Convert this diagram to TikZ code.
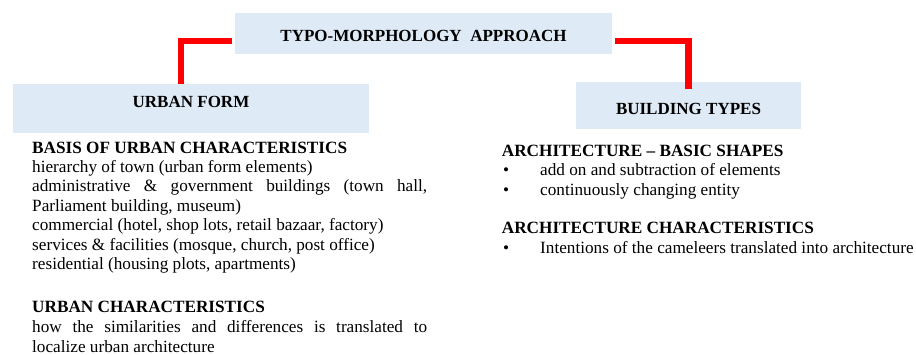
\documentclass[tikz,border=0pt]{standalone}
\usepackage{fontspec}
\setmainfont{Liberation Serif}
\definecolor{boxblue}{RGB}{222,234,246}
\definecolor{linkred}{RGB}{255,0,0}
\begin{document}
\begin{tikzpicture}[x=1pt,y=-1pt,
  hbox/.style={fill=boxblue,draw=none,inner sep=0pt,rectangle,font=\fontsize{17}{19.5}\selectfont\bfseries},
  link/.style={draw=linkred,line width=6.5pt,line join=miter},
  txt/.style={anchor=base west,inner sep=0pt,font=\fontsize{17.2}{19.5}\selectfont},
  head/.style={txt,font=\fontsize{17.2}{19.5}\selectfont\bfseries}]
\useasboundingbox (0,0) rectangle (916,355);
% boxes
\node[hbox,minimum width=377pt,minimum height=41pt,text height=16.4pt,text depth=0pt] (top) at (423.5,33.5) {TYPO-MORPHOLOGY\ \ APPROACH};
\node[hbox,minimum width=356pt,minimum height=49pt,text height=5pt,text depth=6pt] (uf) at (191,108.5) {URBAN FORM};
\node[hbox,minimum width=225pt,minimum height=47pt,text height=19pt,text depth=0pt] (bt) at (688.5,105.5) {BUILDING TYPES};
% connectors
\draw[link] ([shift={(-3,7.5)}]top.west) -| ([xshift=-10pt]uf.north);
\draw[link] ([shift={(3,7.5)}]top.east) -| ([shift={(0.2,7)}]bt.north);
% left text
\node[head] (h1) at (32,154) {BASIS OF URBAN CHARACTERISTICS};
\node[txt] (l1) at (32,172.5) {hierarchy of town (urban form elements)};
\node[txt] (l2) at (32,192) {\makebox[395pt][s]{administrative \& government buildings (town hall,}};
\node[txt] (l3) at (32,211.5) {Parliament building, museum)};
\node[txt] (l4) at (32,231) {commercial (hotel, shop lots, retail bazaar, factory)};
\node[txt] (l5) at (32,250.5) {services \& facilities (mosque, church, post office)};
\node[txt] (l6) at (32,270) {residential (housing plots, apartments)};
\node[head] (h2) at (32,313) {URBAN CHARACTERISTICS};
\node[txt] (l7) at (32,333) {\makebox[395pt][s]{how the similarities and differences is translated to}};
\node[txt] (l8) at (32,353) {localize urban architecture};
% right text
\node[head] (h3) at (501.7,157) {ARCHITECTURE – BASIC SHAPES};
\node[txt] (b1) at (503,176) {•};
\node[txt] (r1) at (540,176) {add on and subtraction of elements};
\node[txt] (b2) at (503,196) {•};
\node[txt] (r2) at (540,196) {continuously changing entity};
\node[head] (h4) at (501.7,234) {ARCHITECTURE CHARACTERISTICS};
\node[txt] (b3) at (503,254) {•};
\node[txt] (r3) at (540,254) {Intentions of the cameleers translated into architecture};
\end{tikzpicture}
\end{document}
